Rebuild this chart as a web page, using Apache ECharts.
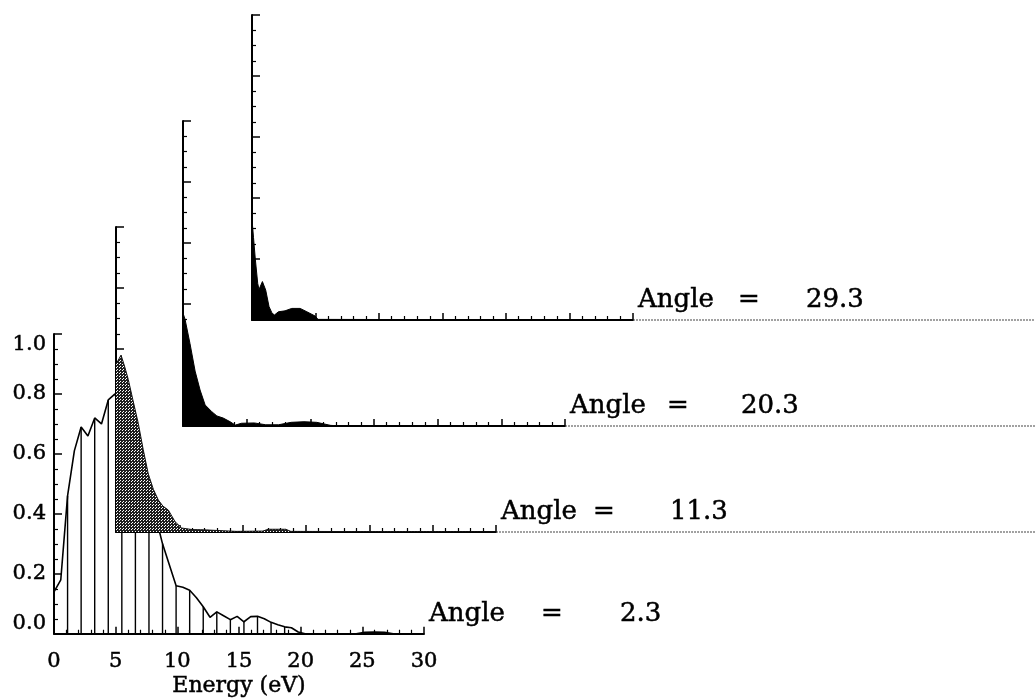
<!DOCTYPE html>
<html><head><meta charset="utf-8">
<script src="https://cdn.jsdelivr.net/npm/echarts@6/dist/echarts.min.js"></script>
<style>html,body{margin:0;padding:0;background:#fff}#c{width:1035px;height:699px}</style>
</head><body><div id="c"></div>
<script>
// ---- data ----
const xTickLabels = ['0','5','10','15','20','25','30'];
const yTickLabels = ['0.0','0.2','0.4','0.6','0.8','1.0'];
const angles = ['2.3','11.3','20.3','29.3'];
const xTitle = 'Energy (eV)';

const baseE = [0,0.55,1.1,1.65,2.2,2.75,3.3,3.85,4.4,4.95,5.5,6.05,6.6,7.15,7.7,8.25,8.8,9.35,9.9,10.45,11.0,11.55,12.1,12.65,13.2,13.75,14.3,14.85,15.4,15.95,16.5,17.05,17.6,18.15,18.7,19.25,19.8,20.35,24.5,25.2,26.0,26.8,27.5,30];
const baseV = [0.14,0.18,0.46,0.61,0.69,0.66,0.72,0.70,0.78,0.80,0.72,0.62,0.52,0.43,0.38,0.39,0.30,0.23,0.16,0.155,0.145,0.12,0.09,0.055,0.073,0.06,0.047,0.058,0.04,0.057,0.058,0.05,0.038,0.03,0.023,0.02,0.006,0.0,0,0.005,0.006,0.005,0,0];
const dropE = [1.1,2.2,3.3,4.4,5.5,6.6,7.7,8.8,9.9,11.0,12.1,13.2,14.3,15.4,16.5,17.6,18.7];
const dropV = [0.46,0.69,0.72,0.78,0.72,0.52,0.38,0.30,0.16,0.145,0.09,0.073,0.047,0.04,0.058,0.038,0.023];

const p2E = [0,0.4,0.7,0.97,1.35,1.76,2.15,2.55,2.95,3.34,3.7,4.13,4.66,5.18,6.0,7.0,8.5,9.5,11.6,12.0,13.4,13.8,30];
const p2V = [0.55,0.58,0.54,0.50,0.43,0.356,0.27,0.19,0.14,0.105,0.085,0.072,0.034,0.013,0.008,0.007,0.004,0.002,0.003,0.009,0.009,0.002,0];

const p3E = [0,0.16,0.55,0.95,1.34,1.74,2.26,2.66,3.16,3.7,4.1,4.6,5.6,6.5,7.5,8.5,9.5,10.5,11.6,12.5,30];
const p3V = [0.37,0.35,0.27,0.18,0.118,0.069,0.047,0.033,0.026,0.014,0.003,0.009,0.01,0.004,0.004,0.012,0.014,0.012,0.002,0,0];

const p4E = [0,0.12,0.26,0.45,0.55,0.82,1.08,1.34,1.55,1.76,2.08,2.6,3.13,3.79,4.32,4.97,5.2,30];
const p4V = [0.33,0.27,0.20,0.12,0.10,0.126,0.098,0.044,0.025,0.016,0.027,0.03,0.038,0.038,0.027,0.013,0.002,0];

// ---- layout / style ----
const panels = [
  {left:54, top:334, width:370, height:300},
  {left:116, top:227, width:380, height:305},
  {left:183, top:121, width:382, height:305},
  {left:252, top:15, width:381, height:305}
];
const labelGaps = [[112,79],[92,77],[97,74],[100,68]];
const FONT = 'DejaVu Serif';
const heavy = {textBorderColor:'#000', textBorderWidth:0.5};

const zip = (a,b) => a.map((v,i)=>[v,b[i]]);

// stipple pattern
const pc = document.createElement('canvas');
pc.width = 3; pc.height = 3;
const pctx = pc.getContext('2d');
pctx.fillStyle = '#1e1e1e'; pctx.fillRect(0,0,3,3);
pctx.fillStyle = '#ffffff'; pctx.fillRect(0,0,1,1); pctx.fillRect(2,1,1,1);

const chart = echarts.init(document.getElementById('c'), null, {renderer:'canvas'});

const grids = panels.map(p => ({left:p.left, top:p.top, width:p.width, height:p.height, containLabel:false}));

const angleStyle = Object.assign({fontFamily:FONT, fontSize:26, color:'#000'}, heavy);

const xAxes = panels.map((p,i) => ({
  gridIndex:i, type:'value', min:0, max:30, interval:5,
  axisLine:{show:true, onZero:false, lineStyle:{color:'#000', width:2}},
  axisTick:{show:true, inside:true, length:7, lineStyle:{color:'#000', width:1.5}},
  minorTick:{show:true, splitNumber:5, length:4, lineStyle:{color:'#000', width:1.2}},
  splitLine:{show:false}, minorSplitLine:{show:false},
  axisLabel:Object.assign({show:i===0, margin:17, color:'#000', fontFamily:FONT, fontSize:21,
    formatter:v => xTickLabels[Math.round(v/5)]}, heavy),
  name:'{a|Angle}{b|=}{c|' + angles[i] + '}',
  nameLocation:'end', nameGap:5,
  nameTextStyle:Object.assign({
    align:'left', verticalAlign:'bottom', padding:[0,0,7,0],
    rich:{
      a:Object.assign({width:labelGaps[i][0]}, angleStyle),
      b:Object.assign({width:labelGaps[i][1]}, angleStyle),
      c:Object.assign({}, angleStyle)
    }
  }, angleStyle)
}));
xAxes.push({
  gridIndex:0, type:'value', min:0, max:30, position:'bottom',
  axisLine:{show:false}, axisTick:{show:false}, axisLabel:{show:false}, splitLine:{show:false},
  name:xTitle, nameLocation:'middle', nameGap:42,
  nameTextStyle:Object.assign({fontFamily:FONT, fontSize:22, color:'#000'}, heavy)
});

const yAxes = panels.map((p,i) => ({
  gridIndex:i, type:'value', min:0, max:1, interval:0.2,
  axisLine:{show:true, onZero:false, lineStyle:{color:'#000', width:2}},
  axisTick:{show:true, inside:true, length:8, lineStyle:{color:'#000', width:1.5}},
  minorTick:{show:true, splitNumber:4, length:4, lineStyle:{color:'#000', width:1.2}},
  splitLine:{show:false}, minorSplitLine:{show:false},
  axisLabel:Object.assign({show:i===0, margin:8, color:'#000', fontFamily:FONT, fontSize:21,
    verticalAlignMinLabel:'bottom', verticalAlignMaxLabel:'top',
    formatter:v => yTickLabels[Math.round(v/0.2)]}, heavy)
}));

const series = [
  {type:'bar', xAxisIndex:0, yAxisIndex:0, data:zip(dropE, dropV), barWidth:1.4,
   itemStyle:{color:'#000'}, silent:true, z:2},
  {type:'line', xAxisIndex:0, yAxisIndex:0, data:zip(baseE, baseV), symbol:'none',
   lineStyle:{color:'#000', width:1.6}, z:2},
  {type:'line', xAxisIndex:1, yAxisIndex:1, data:zip(p2E, p2V), symbol:'none',
   lineStyle:{color:'#111', width:1}, areaStyle:{color:{image:pc, repeat:'repeat'}, opacity:1}, z:3},
  {type:'line', xAxisIndex:2, yAxisIndex:2, data:zip(p3E, p3V), symbol:'none',
   lineStyle:{color:'#000', width:1}, areaStyle:{color:'#000', opacity:1}, z:3},
  {type:'line', xAxisIndex:3, yAxisIndex:3, data:zip(p4E, p4V), symbol:'none',
   lineStyle:{color:'#000', width:1}, areaStyle:{color:'#000', opacity:1}, z:3}
];

chart.setOption({
  backgroundColor:'#fff',
  animation:false,
  grid:grids, xAxis:xAxes, yAxis:yAxes, series:series
});

// baseline extensions to the right edge for the offset panels
const ext = [];
for (let i = 1; i < panels.length; i++) {
  const p = chart.convertToPixel({gridIndex:i}, [30, 0]);
  ext.push({type:'line', z:1, shape:{x1:p[0], y1:p[1], x2:1035, y2:p[1]},
    style:{stroke:'#444', lineWidth:1.2, lineDash:[2,1]}});
}
chart.setOption({graphic:ext});
</script>
</body></html>
